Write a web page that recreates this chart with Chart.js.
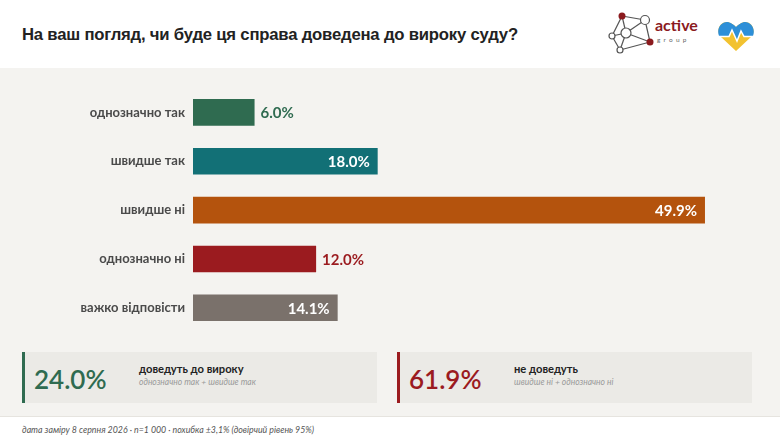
<!DOCTYPE html>
<html>
<head>
<meta charset="utf-8">
<script src="https://cdn.jsdelivr.net/npm/chart.js@4/dist/chart.umd.min.js"></script>
<style>
  html, body { margin: 0; padding: 0; }
  body { width: 780px; height: 439px; position: relative; overflow: hidden; background: #fff; font-family: Lato, sans-serif; }
  .header { position: absolute; left: 0; top: 0; width: 780px; height: 68px; background: #fff; }
  .title { position: absolute; left: 22px; top: 25px; font-family: "Liberation Sans", Arial, sans-serif; font-weight: bold; font-size: 16.7px; color: #222; letter-spacing: -0.2px; }
  .main { position: absolute; left: 0; top: 68px; width: 780px; height: 348px; background: #f4f3f0; }
  .chartbox { position: absolute; left: 0; top: 68px; width: 780px; height: 280px; }
  .card { position: absolute; top: 352px; height: 51px; width: 355px; background: #ebeae6; }
  .card .bar { position: absolute; left: 0; top: 0; width: 3px; height: 100%; }
  .card .num { position: absolute; left: 12px; top: 11px; font-size: 26px; font-weight: 600; }
  .card .lbl { position: absolute; left: 117px; top: 10px; font-size: 11.2px; font-weight: bold; color: #222; }
  .card .sub { position: absolute; left: 117px; top: 25px; font-size: 8.5px; font-style: italic; color: #9a9a9a; }
  .footer { position: absolute; left: 0; top: 416px; width: 780px; height: 23px; background: #fff; border-top: 1px solid #e6e4df; }
  .footer span { position: absolute; left: 22px; top: 7px; font-size: 8.8px; font-style: italic; color: #555; }
  .logo { position: absolute; left: 607px; top: 12px; }
  .heart { position: absolute; left: 717px; top: 20px; }
</style>
</head>
<body>
<div class="header">
  <div class="title">На ваш погляд, чи буде ця справа доведена до вироку суду?</div>
  <svg class="logo" width="100" height="44" viewBox="0 0 100 44">
    <g stroke="#555" stroke-width="1.2" fill="#fff">
      <line x1="15" y1="4" x2="38" y2="8"/>
      <line x1="15" y1="4" x2="5" y2="24"/>
      <line x1="15" y1="4" x2="19" y2="21"/>
      <line x1="38" y1="8" x2="43" y2="30"/>
      <line x1="38" y1="8" x2="19" y2="21"/>
      <line x1="5" y1="24" x2="19" y2="21"/>
      <line x1="5" y1="24" x2="13" y2="38"/>
      <line x1="19" y1="21" x2="43" y2="30"/>
      <line x1="19" y1="21" x2="13" y2="38"/>
      <line x1="13" y1="38" x2="43" y2="30"/>
      <circle cx="38" cy="8" r="4.5"/>
      <circle cx="19" cy="21" r="5"/>
      <circle cx="5" cy="24" r="3"/>
      <circle cx="13" cy="38" r="3"/>
    </g>
    <circle cx="15" cy="4" r="3.5" fill="#8b1a1e"/>
    <circle cx="43" cy="30" r="3.5" fill="#8b1a1e"/>
    <text x="48" y="19" font-family="Lato, sans-serif" font-weight="bold" font-size="16" fill="#8b1a1e">active</text>
    <text x="50" y="30" font-family="Lato, sans-serif" font-size="6.5" fill="#666" letter-spacing="3.2">group</text>
  </svg>
  <svg class="heart" width="38" height="32" viewBox="0 0 38 32">
    <path d="M19 31 L4 17 C-2 11 3 1 11 2 C15 3 17 5 19 7 C21 5 23 3 27 2 C35 1 40 11 34 17 Z" fill="#f2c230"/>
    <path d="M2 16 C-1 8 5 1 11 2 C15 3 17 5 19 7 C21 5 23 3 27 2 C33 1 39 8 36 16 L27 16 L24 11 L20 21 L15 10 L12 16 Z" fill="#2d8fd8"/>
    <polyline points="1,16.5 12,16.5 15,10 20,21 24,11 27,16.5 37,16.5" fill="none" stroke="#fff" stroke-width="1.5"/>
  </svg>
</div>
<div class="main"></div>
<div class="chartbox"><canvas id="chart"></canvas></div>

<div class="card" style="left:22px">
  <div class="bar" style="background:#2f6b50"></div>
  <div class="num" style="color:#2f6b50">24.0%</div>
  <div class="lbl">доведуть до вироку</div>
  <div class="sub">однозначно так + швидше так</div>
</div>
<div class="card" style="left:397px">
  <div class="bar" style="background:#9b1b1f"></div>
  <div class="num" style="color:#9b1b1f">61.9%</div>
  <div class="lbl">не доведуть</div>
  <div class="sub">швидше ні + однозначно ні</div>
</div>

<div class="footer"><span>дата заміру 8 серпня 2026 · n=1 000 · похибка ±3,1% (довірчий рівень 95%)</span></div>

<script>
const categories = ["однозначно так", "швидше так", "швидше ні", "однозначно ні", "важко відповісти"];
const values = [6.0, 18.0, 49.9, 12.0, 14.1];
const barColors = ["#2f6b50", "#127076", "#b4530d", "#9b1b1f", "#7a716b"];
const xMax = 50;

// value labels: inside (white) for long bars, outside (bar colour) for short ones
const valueLabels = {
  id: "valueLabels",
  afterDatasetsDraw(chart) {
    const ctx = chart.ctx;
    const meta = chart.getDatasetMeta(0);
    ctx.save();
    ctx.font = "bold 15px Lato, sans-serif";
    ctx.textBaseline = "middle";
    meta.data.forEach((bar, i) => {
      const text = values[i].toFixed(1) + "%";
      if (values[i] > 13) {
        ctx.fillStyle = "#ffffff";
        ctx.textAlign = "right";
        ctx.fillText(text, bar.x - 8, bar.y + 1);
      } else {
        ctx.fillStyle = barColors[i];
        ctx.textAlign = "left";
        ctx.fillText(text, bar.x + 6, bar.y + 1);
      }
    });
    ctx.restore();
  }
};

const ctx = document.getElementById("chart").getContext("2d");
new Chart(ctx, {
  type: "bar",
  data: {
    labels: categories,
    datasets: [{
      data: values,
      backgroundColor: barColors,
      borderWidth: 0,
      categoryPercentage: 1,
      barPercentage: 0.545
    }]
  },
  options: {
    indexAxis: "y",
    responsive: true,
    maintainAspectRatio: false,
    animation: false,
    layout: { padding: { top: 20, bottom: 11, right: 74, left: 0 } },
    plugins: {
      legend: { display: false },
      tooltip: { enabled: false }
    },
    scales: {
      x: { min: 0, max: xMax, display: false },
      y: {
        grid: { display: false, drawTicks: false },
        border: { display: false },
        ticks: {
          padding: 8,
          color: "#4a4a4a",
          font: { family: "Lato, sans-serif", weight: "bold", size: 13 }
        },
        afterFit(scale) { scale.width = 193; }
      }
    }
  },
  plugins: [valueLabels]
});
</script>
</body>
</html>
